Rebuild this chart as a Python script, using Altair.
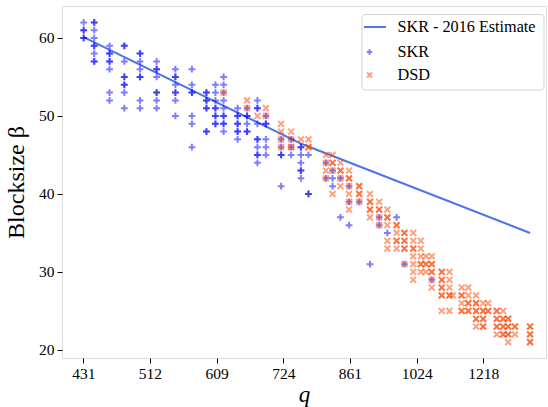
import altair as alt
import pandas as pd

# ---- data ----
SKR_Q = [431, 443, 461, 479, 499, 521, 547, 571, 593, 607, 620, 643, 659, 677, 692,
         720, 739, 758, 773, 809, 823, 840, 859, 882, 907, 929, 949, 972, 992, 1065]
SKR_B = [
    [62, 61, 61, 60, 60],
    [62, 62, 61, 60, 59, 59, 58, 57, 57],
    [59, 58, 58, 57, 57, 56, 53, 52],
    [59, 59, 57, 55, 55, 54, 54, 53, 51],
    [58, 58, 57, 56, 55, 55, 52, 51],
    [57, 56, 56, 55, 53, 53, 52, 51],
    [56, 55, 55, 54, 53, 53, 52, 50],
    [56, 54, 53, 53, 50, 49, 46],
    [53, 53, 52, 52, 51, 51, 48, 48],
    [54, 53, 52, 51, 51, 50, 50, 49, 49],
    [55, 54, 53, 52, 51, 50, 50, 49, 49, 48],
    [51, 50, 50, 49, 49, 48, 48, 47],
    [51, 50, 50, 49, 48, 48],
    [52, 51, 51, 49, 47, 47, 46, 45, 45, 44],
    [50, 49, 49, 47, 46, 45],
    [47, 46, 45, 45, 41],
    [47, 46, 45],
    [46, 46, 45, 44, 43, 43, 42],
    [45, 40, 40],
    [44, 42],
    [43, 42, 41],
    [42, 37],
    [41, 39, 36],
    [39],
    [31],
    [37, 36],
    [35],
    [37],
    [31],
    [29],
]

DSD_Q = [620, 659, 677, 692, 720, 739, 758, 773, 809, 823, 840, 859, 882, 907, 929,
         949, 972, 992, 1015, 1035, 1049, 1065, 1093, 1115, 1125, 1151, 1171, 1195,
         1217, 1233, 1261, 1282, 1299, 1322, 1375]
DSD_B = [
    [53],
    [52, 51],
    [50],
    [51, 50],
    [49, 48, 47, 46],
    [48, 47, 46, 46],
    [47],
    [47, 46, 46],
    [45, 44, 43, 42],
    [45, 44, 44, 43, 40],
    [44, 43, 43, 42, 41],
    [43, 42, 42, 41, 40, 39, 38],
    [41, 41, 40, 40, 39],
    [40, 39, 39, 38, 38, 37],
    [39, 38, 38, 37, 36],
    [38, 37, 37, 36, 34, 33],
    [36, 36, 35, 34, 34, 33],
    [35, 35, 34, 34, 33, 33, 31],
    [35, 34, 33, 33, 32, 31, 30, 29],
    [34, 33, 32, 31, 31, 30],
    [32, 31, 31, 30],
    [32, 31, 31, 30, 30, 29, 28],
    [30, 30, 29, 29, 28, 28, 27, 27, 25],
    [30, 29, 28, 27, 27, 25],
    [27],
    [28, 27, 27, 26, 25, 25],
    [28, 27, 26, 26, 25, 25],
    [27, 26, 26, 25, 25, 24, 24, 23],
    [26, 25, 25, 24, 24, 23, 23],
    [26, 25, 25],
    [25, 25, 24, 24, 23, 23, 22],
    [25, 24, 24, 23, 23, 22, 22],
    [24, 24, 23, 23, 22, 22, 21],
    [23, 23, 22],
    [23, 23, 22, 22, 21, 21],
]

EST_Q = [431, 760, 1375]
EST_B = [60.1, 46.4, 35.0]

X_TICKS = [2 ** 8.75, 2 ** 9, 2 ** 9.25, 2 ** 9.5, 2 ** 9.75, 2 ** 10, 2 ** 10.25]
Y_TICKS = [20, 30, 40, 50, 60]
LEGEND_LABELS = ["SKR - 2016 Estimate", "SKR", "DSD"]

skr = pd.DataFrame([(q, b) for q, bs in zip(SKR_Q, SKR_B) for b in bs], columns=["q", "beta"])
dsd = pd.DataFrame([(q, b) for q, bs in zip(DSD_Q, DSD_B) for b in bs], columns=["q", "beta"])
est = pd.DataFrame({"q": EST_Q, "beta": EST_B})

FONT = "Liberation Serif"
PLUS = "M-1,0L1,0M0,-1L0,1"
CROSS = "M-1,-1L1,1M-1,1L1,-1"
LINE_COLOR = "#4f74e6"

xs = alt.Scale(type="log", base=2, domain=[407.4, 1433.1], nice=False, zero=False)
ys = alt.Scale(domain=[18.97, 64.1], nice=False, zero=False)

x_axis = alt.Axis(values=X_TICKS, labelExpr="format(datum.value, 'd')", title="q",
                  titleFont=FONT, titleFontStyle="italic", titleFontWeight="normal",
                  titleFontSize=23, titleColor="black", titleBaseline="alphabetic", titleY=43,
                  labelFont=FONT, labelFontSize=15.5, labelColor="black", labelPadding=3,
                  tickSize=5, tickColor="black", grid=False, domain=False)
y_axis = alt.Axis(values=Y_TICKS, title="Blocksize β",
                  titleFont=FONT, titleFontWeight="normal", titleFontSize=24,
                  titleColor="black", titlePadding=10,
                  labelFont=FONT, labelFontSize=15.5, labelColor="black", labelPadding=3,
                  tickSize=5, tickColor="black", grid=False, domain=False)

line = alt.Chart(est).mark_line(color=LINE_COLOR, strokeWidth=2).encode(
    x=alt.X("q:Q", scale=xs, axis=x_axis),
    y=alt.Y("beta:Q", scale=ys, axis=y_axis),
)

skr_pts = alt.Chart(skr).mark_point(shape=PLUS, filled=False, color="#0000ff",
                                    opacity=0.5, size=46, strokeWidth=2).encode(
    x=alt.X("q:Q", scale=xs), y=alt.Y("beta:Q", scale=ys))

dsd_pts = alt.Chart(dsd).mark_point(shape=CROSS, filled=False, color="#ff4500",
                                    opacity=0.5, size=34, strokeWidth=2).encode(
    x=alt.X("q:Q", scale=xs), y=alt.Y("beta:Q", scale=ys))

# ---- legend (drawn by hand) ----
leg_box = alt.Chart(pd.DataFrame({"a": [0]})).mark_rect(
    fill="white", opacity=0.85, stroke="#cccccc", strokeWidth=1, cornerRadius=3).encode(
    x=alt.value(300), x2=alt.value(482), y=alt.value(8.5), y2=alt.value(84))
leg_line = alt.Chart(pd.DataFrame({"a": [0]})).mark_rule(color=LINE_COLOR, strokeWidth=2).encode(
    x=alt.value(302), x2=alt.value(324), y=alt.value(21))
leg_plus = alt.Chart(pd.DataFrame({"a": [0]})).mark_point(
    shape=PLUS, filled=False, color="#0000ff", opacity=0.5, size=30, strokeWidth=2).encode(
    x=alt.value(307.5), y=alt.value(46))
leg_cross = alt.Chart(pd.DataFrame({"a": [0]})).mark_point(
    shape=CROSS, filled=False, color="#ff4500", opacity=0.5, size=24, strokeWidth=2).encode(
    x=alt.value(307.5), y=alt.value(69))
leg_texts = []
for lab, yy in zip(LEGEND_LABELS, [21, 45.5, 68.5]):
    leg_texts.append(
        alt.Chart(pd.DataFrame({"t": [lab]})).mark_text(
            font=FONT, fontSize=16.2, color="black", align="left", baseline="middle").encode(
            x=alt.value(335.5), y=alt.value(yy), text="t:N"))

chart = alt.layer(line, skr_pts, dsd_pts, leg_box, leg_line, leg_plus, leg_cross, *leg_texts).properties(
    width=484, height=352,
    autosize=alt.AutoSizeParams(type="none"),
    padding={"left": 62, "top": 6, "right": 2, "bottom": 49},
).configure_view(stroke="black", strokeWidth=1).configure(background="white")

chart.save("out.html", embed_options={"renderer": "svg", "actions": False})
